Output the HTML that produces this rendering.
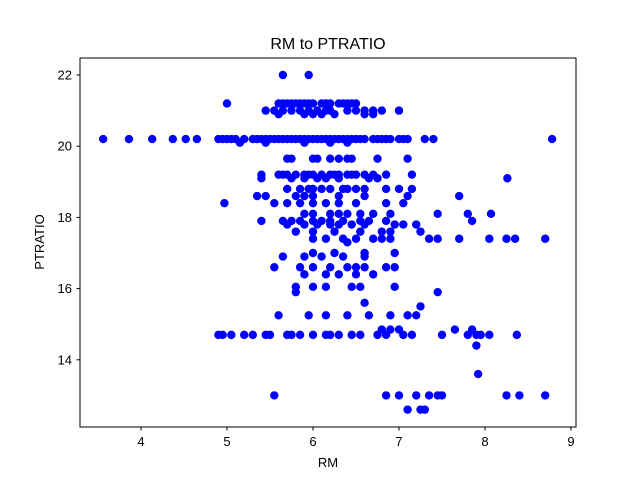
<!DOCTYPE html>
<html><head><meta charset="utf-8"><style>
html,body{margin:0;padding:0;background:#fff;}
svg{display:block;font-family:"Liberation Sans","DejaVu Sans",sans-serif;}
</style></head><body>
<svg id="chart" width="640" height="480" viewBox="0 0 640 480" xmlns="http://www.w3.org/2000/svg">
<rect width="640" height="480" fill="#fff"/>
<text x="328" y="49" text-anchor="middle" font-size="16">RM to PTRATIO</text>
<g id="points"></g>
<rect x="80" y="58" width="496" height="369" fill="none" stroke="#000" stroke-width="1"/>
<g id="xticks"></g>
<g id="yticks"></g>
<text x="328" y="467" text-anchor="middle" font-size="13">RM</text>
<text x="44" y="242" text-anchor="middle" font-size="13" transform="rotate(-90 44 242)">PTRATIO</text>
</svg>
<script>
const ptratioLevels = [22.0,21.2,21.0,20.9,20.2,20.1,19.65,19.2,19.1,18.8,18.6,18.4,18.1,17.9,17.8,17.6,17.4,17.3,17.0,16.9,16.6,16.4,16.05,15.9,15.6,15.25,15.5,14.85,14.7,14.4,13.6,13.0,12.6];
const rmByLevel = [
 [5.65,5.95],
 [5.0,5.6,5.65,5.7,5.75,5.8,5.85,5.9,5.95,6.0,6.1,6.15,6.2,6.3,6.35,6.4,6.45,6.5],
 [5.45,5.55,5.65,5.75,5.85,5.95,6.05,6.15,6.2,6.4,6.5,6.6,6.7,6.8,7.0],
 [5.6,5.9,6.0,6.1,6.25,6.6,6.7],
 [3.56,3.86,4.13,4.37,4.52,4.65,4.9,4.95,5.0,5.05,5.1,5.2,5.3,5.35,5.4,5.45,5.5,5.55,5.6,5.65,5.7,5.75,5.8,5.85,5.9,5.95,6.0,6.05,6.1,6.15,6.2,6.25,6.3,6.35,6.4,6.45,6.5,6.55,6.6,6.7,6.75,6.8,6.85,6.9,7.0,7.05,7.1,7.3,7.4,8.78],
 [5.15,5.45,5.9,6.2,6.4],
 [5.7,5.75,6.0,6.05,6.2,6.3,6.4,6.45,6.75,7.1],
 [5.4,5.6,5.65,5.7,5.8,5.9,5.95,6.0,6.1,6.2,6.25,6.3,6.4,6.45,6.5,6.6,6.7,6.85,7.15],
 [5.4,5.75,5.9,6.05,6.15,6.3,6.65,6.75,8.26],
 [5.7,5.85,5.95,6.0,6.1,6.2,6.35,6.4,6.5,6.6,6.85,7.0,7.15],
 [5.35,5.45,5.8,5.9,6.0,6.3,6.6,7.1,7.7],
 [4.97,5.55,5.7,5.85,6.0,6.15,6.3,6.5,6.85,7.05],
 [5.9,6.0,6.2,6.3,6.4,6.55,6.7,6.9,7.45,7.8,8.07],
 [5.4,5.65,5.75,5.85,6.0,6.1,6.2,6.35,6.55,6.65,6.85,7.85],
 [5.7,5.9,6.05,6.2,6.3,6.45,6.6,6.95,7.05,7.2],
 [5.8,6.0,6.25,6.55,6.8,6.9,7.25],
 [6.0,6.15,6.35,6.5,6.7,6.8,6.9,7.35,7.45,7.7,8.05,8.25,8.35,8.7],
 [6.4],
 [6.0,6.25,6.6,6.95],
 [5.65,5.9,6.1,6.35,6.6],
 [5.55,5.85,6.0,6.2,6.4,6.5,6.6,6.85,6.95],
 [5.9,6.15,6.3,6.5,6.7],
 [5.8,6.0,6.15,6.45,6.55,6.95],
 [5.8,7.45],
 [6.6],
 [5.6,5.95,6.15,6.4,6.65,6.9,7.1,7.2],
 [7.25],
 [6.8,6.9,7.0,7.65,7.85],
 [4.9,4.95,5.05,5.2,5.3,5.45,5.5,5.7,5.75,5.85,6.0,6.15,6.2,6.3,6.45,6.55,6.75,6.85,7.05,7.15,7.5,7.8,7.9,7.95,8.05,8.37],
 [7.9],
 [7.92],
 [5.55,6.85,7.0,7.2,7.35,7.45,7.5,8.25,8.4,8.7],
 [7.1,7.25,7.3]
];
const xTickLabels = ["4","5","6","7","8","9"];
const yTickLabels = ["14","16","18","20","22"];

const NS = "http://www.w3.org/2000/svg";
function xScale(v){ return 141 + (v - 4) * 86; }
function yScale(v){ return 75 + (22 - v) * 35.6; }

const pg = document.getElementById('points');
ptratioLevels.forEach((lvl, i) => {
  rmByLevel[i].forEach(rm => {
    const c = document.createElementNS(NS, 'circle');
    c.setAttribute('cx', xScale(rm));
    c.setAttribute('cy', yScale(lvl));
    c.setAttribute('r', 4.2);
    c.setAttribute('fill', '#0000ff');
    
    
    pg.appendChild(c);
  });
});

const xg = document.getElementById('xticks');
xTickLabels.forEach(t => {
  const x = xScale(parseFloat(t));
  const l = document.createElementNS(NS, 'line');
  l.setAttribute('x1', x); l.setAttribute('x2', x);
  l.setAttribute('y1', 427); l.setAttribute('y2', 430.5);
  l.setAttribute('stroke', '#000');
  
  
  xg.appendChild(l);
  const tx = document.createElementNS(NS, 'text');
  tx.setAttribute('x', x); tx.setAttribute('y', 446);
  tx.setAttribute('text-anchor', 'middle');
  tx.setAttribute('font-size', '13');
  tx.textContent = t;
  
  
  xg.appendChild(tx);
});

const yg = document.getElementById('yticks');
yTickLabels.forEach(t => {
  const y = yScale(parseFloat(t));
  const l = document.createElementNS(NS, 'line');
  l.setAttribute('x1', 76.5); l.setAttribute('x2', 80);
  l.setAttribute('y1', y); l.setAttribute('y2', y);
  l.setAttribute('stroke', '#000');
  
  
  yg.appendChild(l);
  const tx = document.createElementNS(NS, 'text');
  tx.setAttribute('x', 72); tx.setAttribute('y', y + 4.5);
  tx.setAttribute('text-anchor', 'end');
  tx.setAttribute('font-size', '13');
  tx.textContent = t;
  
  
  yg.appendChild(tx);
});
</script>
</body></html>
